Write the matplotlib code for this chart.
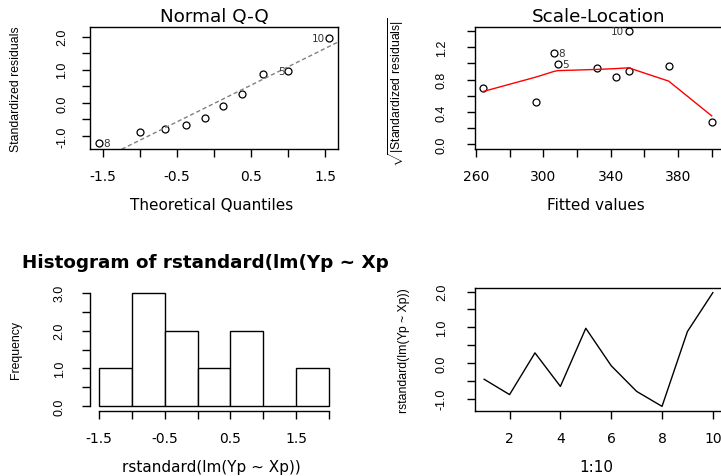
import numpy as np
import matplotlib
matplotlib.use('Agg')
import matplotlib.pyplot as plt
from matplotlib.transforms import Bbox, TransformedBbox

idx = [1, 2, 3, 4, 5, 6, 7, 8, 9, 10]
resid = [-0.46, -0.89, 0.28, -0.66, 0.97, -0.08, -0.80, -1.22, 0.88, 1.97]

# normal Q-Q: theoretical quantiles of the sorted residuals
theo_q = [-1.55, -1.00, -0.66, -0.38, -0.12, 0.12, 0.38, 0.66, 1.00, 1.55]

# scale-location (sorted by fitted value)
fitted = [264.0, 295.6, 306.3, 308.5, 332.0, 342.9, 350.6, 350.6, 374.4, 399.9]
sqrt_abs = [0.69, 0.52, 1.13, 0.99, 0.94, 0.83, 0.91, 1.40, 0.97, 0.28]
sl_labels = ['', '', '8', '5', '', '', '', '10', '', '']
smooth = [0.65, 0.83, 0.90, 0.91, 0.925, 0.935, 0.945, 0.945, 0.78, 0.35]

hist_edges = [-1.5, -1.0, -0.5, 0.0, 0.5, 1.0, 1.5, 2.0]

plt.rcParams.update({'font.family': 'DejaVu Sans', 'font.size': 10,
                     'axes.linewidth': 1.0,
                     'xtick.major.width': 1.0, 'ytick.major.width': 1.0,
                     'xtick.major.size': 6, 'ytick.major.size': 6,
                     'xtick.major.pad': 8.5,
                     'mathtext.fontset': 'custom',
                     'mathtext.rm': 'Liberation Sans'})

W, H = 721, 477
fig = plt.figure(figsize=(W / 100, H / 100), dpi=100)

VFONT = 'Liberation Sans'   # vertical text is narrower in the reference


def box(l, t, r, b):
    return fig.add_axes((l / W, 1 - b / H, (r - l) / W, (b - t) / H))


def rticks(ax, xt, xl, yt, yl, ypad):
    ax.set_xticks(xt, xl)
    ax.set_yticks(yt, yl, rotation=90, va='center', family=VFONT, fontsize=9)
    ax.tick_params(top=False, right=False)
    ax.tick_params(axis='y', pad=ypad)


def ylab(ax, text, x, y=0.5):
    ax.set_ylabel(text, family=VFONT, fontsize=8.8)
    ax.yaxis.set_label_coords(x, y)


ylab_res = ['-1.0', '', '0.0', '', '1.0', '', '2.0']
yt_res = [-1.0, -0.5, 0.0, 0.5, 1.0, 1.5, 2.0]

# ---- Normal Q-Q
ax1 = box(90, 28, 338, 150)
srt = np.sort(resid)
order = np.argsort(resid)
ax1.plot(theo_q, srt, 'o', mfc='none', mec='black', ms=5, mew=0.9)
q1, q3 = np.percentile(resid, [25, 75])
slope = (q3 - q1) / (2 * 0.6745)
icpt = q1 + slope * 0.6745
xx = np.array([-2, 2])
ax1.plot(xx, icpt + slope * xx, color='gray', lw=1, dashes=(3, 2))
for k, i in enumerate(order):
    if idx[i] in (10, 8, 5):
        if theo_q[k] < 0:
            ax1.text(theo_q[k] + 0.05, srt[k], str(idx[i]), fontsize=7.5, va='center', ha='left', color='#333333')
        else:
            ax1.text(theo_q[k] - 0.05, srt[k], str(idx[i]), fontsize=7.5, va='center', ha='right', color='#333333')
ax1.set_xlim(-1.672, 1.672)
ax1.set_ylim(-1.39, 2.29)
rticks(ax1, [-1.5, -1.0, -0.5, 0.0, 0.5, 1.0, 1.5], ['-1.5', '', '-0.5', '', '0.5', '', '1.5'],
       yt_res, ylab_res, 9.5)
ax1.set_title('Normal Q-Q', fontsize=13.2, pad=4)
ax1.set_xlabel('Theoretical Quantiles', fontsize=11)
ax1.xaxis.set_label_coords(0.49, -0.39)
ylab(ax1, 'Standardized residuals', -0.275)

# ---- Scale-Location
ax2 = box(475, 28, 722, 150)
ax2.plot(fitted, sqrt_abs, 'o', mfc='none', mec='black', ms=5, mew=0.9)
ax2.plot(fitted, smooth, color='red', lw=1)
for f, s, lab in zip(fitted, sqrt_abs, sl_labels):
    if lab:
        if f < (fitted[0] + fitted[-1]) / 2:
            ax2.text(f + 2.5, s, lab, fontsize=7.5, va='center', ha='left', color='#333333')
        else:
            ax2.text(f - 2.5, s, lab, fontsize=7.5, va='center', ha='right', color='#333333')
ax2.set_xlim(259.5, 406)
ax2.set_ylim(-0.06, 1.45)
rticks(ax2, [260, 280, 300, 320, 340, 360, 380, 400], ['260', '', '300', '', '340', '', '380', ''],
       [0.0, 0.2, 0.4, 0.6, 0.8, 1.0, 1.2, 1.4], ['0.0', '', '0.4', '', '0.8', '', '1.2', ''], 13.5)
ax2.set_title('Scale-Location', fontsize=13.2, pad=4)
ax2.set_xlabel('Fitted values', fontsize=11)
ax2.xaxis.set_label_coords(0.49, -0.39)
ylab(ax2, r'$\sqrt{|\mathrm{Standardized\ residuals}|}$', -0.28, 0.47)

# ---- Histogram
ax3 = box(90, 289, 338, 412)
ax3.hist(resid, bins=hist_edges, facecolor='white', edgecolor='black', lw=1)
ax3.set_xlim(-1.64, 2.14)
ax3.set_ylim(-0.12, 3.12)
for sp in ('top', 'right'):
    ax3.spines[sp].set_visible(False)
ax3.spines['bottom'].set_bounds(-1.5, 2.0)
ax3.spines['left'].set_bounds(0, 3)
rticks(ax3, [-1.5, -1.0, -0.5, 0.0, 0.5, 1.0, 1.5, 2.0], ['-1.5', '', '-0.5', '', '0.5', '', '1.5', ''],
       [0.0, 0.5, 1.0, 1.5, 2.0, 2.5, 3.0], ['0.0', '', '1.0', '', '2.0', '', '3.0'], 11.5)
t = ax3.set_title('Histogram of rstandard(lm(Yp ~ Xp))', fontsize=13.2, fontweight='bold', pad=15)
t.set_clip_box(TransformedBbox(Bbox.from_extents(0, 0, 388 / W, 1), fig.transFigure))
t.set_clip_on(True)
ax3.set_xlabel('rstandard(lm(Yp ~ Xp))', fontsize=11)
ax3.xaxis.set_label_coords(0.49, -0.39)
ylab(ax3, 'Frequency', -0.275)

# ---- index plot
ax4 = box(475, 289, 722, 412)
ax4.plot(idx, resid, color='black', lw=1)
ax4.set_xlim(0.64, 10.36)
ax4.set_ylim(-1.35, 2.10)
rticks(ax4, [2, 4, 6, 8, 10], ['2', '4', '6', '8', '10'], yt_res, ylab_res, 13.5)
ax4.set_xlabel('1:10', fontsize=11)
ax4.xaxis.set_label_coords(0.49, -0.39)
ylab(ax4, 'rstandard(lm(Yp ~ Xp))', -0.265)

fig.savefig('out.png', dpi=100)
